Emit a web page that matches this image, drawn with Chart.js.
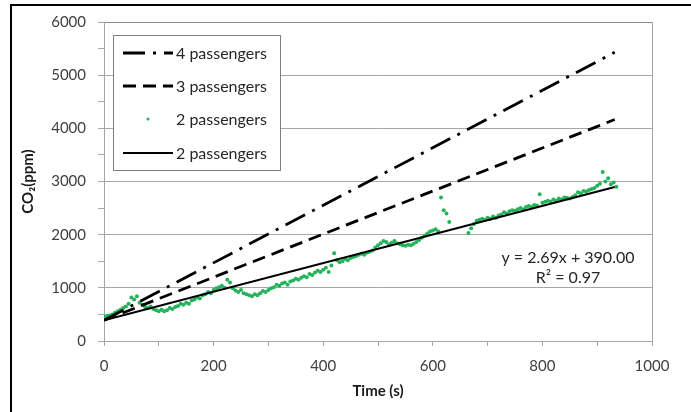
<!DOCTYPE html>
<html lang="en">

<head>
    <meta charset="UTF-8">
    <title>CO2 vs time</title>
    <script src="https://cdn.jsdelivr.net/npm/chart.js"></script>
    <style>
        html, body { margin: 0; padding: 0; background: #fff; overflow: hidden; }
        #quadro { position: absolute; left: 10px; top: 4px; width: 800px; height: 600px; border: 2px solid #000; }
        #grafico { position: absolute; left: 0; top: 0; }
    </style>
</head>

<body>
    <div id="quadro"></div>
    <canvas id="grafico" width="691" height="412"></canvas>

<script>
    // regression / occupancy lines (start and end points)
    const lineTime = [0, 932];
    const fourPassengers = [390, 5430];
    const threePassengers = [390, 4165];
    const twoPassengersFit = [390, 2897];

    // measured CO2 with 2 passengers, read every 5 s (no points 635-660 s)
    const measuredTime = [
        0, 5, 10, 15, 20, 25, 30, 35, 40, 45, 50, 55, 60, 65, 70, 75, 80, 85, 90, 95,
        100, 105, 110, 115, 120, 125, 130, 135, 140, 145, 150, 155, 160, 165, 170, 175, 180, 185, 190, 195,
        200, 205, 210, 215, 220, 225, 230, 235, 240, 245, 250, 255, 260, 265, 270, 275, 280, 285, 290, 295,
        300, 305, 310, 315, 320, 325, 330, 335, 340, 345, 350, 355, 360, 365, 370, 375, 380, 385, 390, 395,
        400, 405, 410, 415, 420, 425, 430, 435, 440, 445, 450, 455, 460, 465, 470, 475, 480, 485, 490, 495,
        500, 505, 510, 515, 520, 525, 530, 535, 540, 545, 550, 555, 560, 565, 570, 575, 580, 585, 590, 595,
        600, 605, 610, 615, 620, 625, 630,
        665, 670, 675, 680, 685, 690, 695,
        700, 705, 710, 715, 720, 725, 730, 735, 740, 745, 750, 755, 760, 765, 770, 775, 780, 785, 790, 795,
        800, 805, 810, 815, 820, 825, 830, 835, 840, 845, 850, 855, 860, 865, 870, 875, 880, 885, 890, 895,
        900, 905, 910, 915, 920, 925, 930, 935
    ];
    const measuredCo2 = [
        460, 470, 480, 500, 530, 560, 590, 620, 650, 700, 820, 780, 840, 720, 680, 640, 620, 650, 600, 580,
        560, 590, 560, 580, 620, 600, 640, 660, 700, 680, 720, 700, 760, 780, 820, 800, 860, 880, 920, 900,
        960, 990, 1010, 1040, 1000, 1150, 1100, 990, 950, 920, 960, 900, 880, 860, 840, 880, 860, 900, 940, 920,
        960, 990, 1010, 1060, 1040, 1080, 1100, 1060, 1120, 1140, 1170, 1150, 1190, 1220, 1200, 1260, 1240, 1290, 1320, 1300,
        1340, 1380, 1300, 1420, 1650, 1520, 1480, 1500, 1540, 1520, 1560, 1580, 1600, 1620, 1640, 1620, 1660, 1680, 1700, 1760,
        1800, 1840, 1880, 1860, 1820, 1850, 1880, 1840, 1820, 1800, 1790, 1810, 1800, 1830, 1860, 1900, 1940, 1980, 2020, 2060,
        2080, 2100, 2060, 2700, 2460, 2400, 2240,
        2030, 2120, 2200, 2260, 2280, 2300, 2280,
        2320, 2300, 2340, 2320, 2360, 2380, 2420, 2400, 2440, 2460, 2450, 2480, 2500, 2480, 2520, 2540, 2520, 2560, 2550, 2760,
        2600, 2620, 2640, 2620, 2660, 2640, 2680, 2660, 2700, 2690, 2680, 2710, 2740, 2800, 2780, 2820, 2810, 2840, 2860, 2880,
        2920, 2960, 3180, 3000, 3060, 2950, 2980, 2900
    ];

    const xTicksMin = 0, xTicksMax = 1000;
    const yTicksMin = 0, yTicksMax = 6000;

    const legendLabels = ['4 passengers', '3 passengers', '2 passengers', '2 passengers'];
    const equationText = ['y = 2.69x + 390.00', 'R² = 0.97'];

    const fonte = 'Lato, "Open Sans", sans-serif';
    const verde = '#22b35b';
    const cinza = '#a6a6a6';

    function pontos(xs, ys) {
        return xs.map((x, i) => ({ x: x, y: ys[i] }));
    }

    const datasets = [
        {
            label: legendLabels[0],
            data: pontos(lineTime, fourPassengers),
            showLine: true, pointRadius: 0,
            borderColor: '#000', borderWidth: 2.8, borderDash: [22, 8, 3, 8],
            order: 1
        },
        {
            label: legendLabels[1],
            data: pontos(lineTime, threePassengers),
            showLine: true, pointRadius: 0,
            borderColor: '#000', borderWidth: 2.8, borderDash: [13, 7],
            order: 1
        },
        {
            label: legendLabels[2],
            data: pontos(measuredTime, measuredCo2),
            showLine: false, pointRadius: 2, pointBorderWidth: 0,
            backgroundColor: verde, borderColor: verde,
            order: 2
        },
        {
            label: legendLabels[3],
            data: pontos(lineTime, twoPassengersFit),
            showLine: true, pointRadius: 0,
            borderColor: '#000', borderWidth: 2.2,
            order: 0
        }
    ];

    // legend box in the top-left corner + regression equation
    const extras = {
        id: 'extras',
        afterDraw(chart) {
            const ctx = chart.ctx;
            ctx.save();
            ctx.fillStyle = '#fff';
            ctx.fillRect(113, 35, 167, 135);
            ctx.strokeStyle = '#7f7f7f';
            ctx.lineWidth = 1;
            ctx.strokeRect(113.5, 35.5, 167, 135);

            const linhasY = [53, 86, 119, 153];
            ctx.font = '16px ' + fonte;
            ctx.textBaseline = 'middle';
            datasets.forEach((ds, i) => {
                const y = linhasY[i];
                if (ds.showLine) {
                    ctx.strokeStyle = '#000';
                    ctx.lineWidth = ds.borderWidth;
                    ctx.setLineDash(ds.borderDash || []);
                    ctx.beginPath();
                    ctx.moveTo(123, y);
                    ctx.lineTo(173, y);
                    ctx.stroke();
                    ctx.setLineDash([]);
                } else {
                    ctx.fillStyle = verde;
                    ctx.beginPath();
                    ctx.arc(148, y, 1.5, 0, Math.PI * 2);
                    ctx.fill();
                }
                ctx.fillStyle = '#262626';
                ctx.textAlign = 'left';
                ctx.fillText(ds.label, 176, y + 1);
            });

            ctx.textAlign = 'center';
            ctx.fillStyle = '#262626';
            ctx.fillText(equationText[0], 568, 258);
            ctx.fillText(equationText[1], 568, 278);
            ctx.restore();
        }
    };

    const config = {
        type: 'scatter',
        data: { datasets: datasets },
        options: {
            responsive: false,
            animation: false,
            devicePixelRatio: 1,
            layout: { padding: { left: 0, right: 39, top: 22, bottom: 0 } },
            plugins: {
                legend: { display: false },
                tooltip: { enabled: false }
            },
            scales: {
                x: {
                    type: 'linear',
                    min: xTicksMin, max: xTicksMax,
                    afterFit: (s) => { s.height = 71; },
                    ticks: {
                        stepSize: 100, autoSkip: false, maxRotation: 0, padding: 11,
                        color: '#404040', font: { family: fonte, size: 15 },
                        callback: (v) => (v % 200 === 0 ? v : '')
                    },
                    grid: {
                        tickLength: 5,
                        color: (c) => (c.tick && c.tick.value === 1000 ? cinza : 'transparent'),
                        tickColor: cinza
                    },
                    border: { color: cinza },
                    title: {
                        display: true, text: 'Time (s)', color: '#1a1a1a',
                        font: { family: fonte, size: 15, weight: 'bold' },
                        padding: { top: 4, bottom: 12 }
                    }
                },
                y: {
                    min: yTicksMin, max: yTicksMax,
                    afterFit: (s) => { s.width = 104; },
                    ticks: {
                        stepSize: 500, autoSkip: false, padding: 12,
                        color: '#404040', font: { family: fonte, size: 15 },
                        callback: (v) => (v % 1000 === 0 ? v : '')
                    },
                    grid: {
                        tickLength: 6,
                        color: (c) => (c.tick && c.tick.value % 1000 === 0 ? (c.tick.value === 6000 ? '#8c8c8c' : cinza) : 'transparent'),
                        tickColor: cinza
                    },
                    border: { color: cinza },
                    title: {
                        display: true, text: 'CO₂(ppm)', color: '#1a1a1a',
                        font: { family: fonte, size: 15, weight: 'bold' },
                        padding: { top: 19, bottom: 4 }
                    }
                }
            }
        },
        plugins: [extras]
    };

    let myChart = new Chart(document.getElementById('grafico'), config);
</script>
</body>

</html>
